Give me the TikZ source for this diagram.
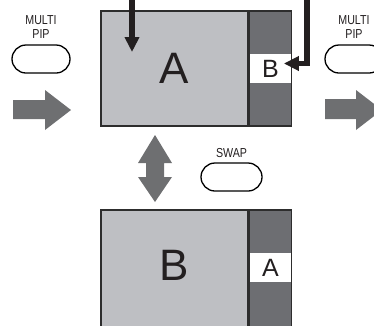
\documentclass[tikz,border=0pt]{standalone}
\usepackage{fontspec}
\setmainfont{Liberation Sans}
\newfontfamily\btnfont[FakeStretch=0.82]{Liberation Sans}
\usetikzlibrary{arrows.meta,positioning}
\definecolor{scrgray}{RGB}{190,191,195}
\definecolor{pipgray}{RGB}{109,110,114}
\definecolor{arrowgray}{RGB}{110,111,113}
\definecolor{frameblk}{RGB}{45,45,45}
\definecolor{inkblk}{RGB}{35,31,32}
\begin{document}
\begin{tikzpicture}[x=1pt,y=-1pt,
  screen/.style={draw=frameblk,line width=1.4pt,fill=scrgray,minimum width=147pt,minimum height=115pt,inner sep=0pt,text=inkblk,font=\fontsize{44}{44}\selectfont},
  pipstrip/.style={draw=frameblk,line width=1.4pt,fill=pipgray,minimum width=42pt,minimum height=115pt,inner sep=0pt},
  pipbox/.style={fill=white,minimum width=40.6pt,minimum height=29pt,inner sep=0pt,text=inkblk,font=\fontsize{25}{25}\selectfont},
  button/.style={draw=black,line width=1.3pt,rounded corners=14pt,minimum height=28pt,inner sep=0pt},
  btnlabel/.style={font=\btnfont\fontsize{13}{13.5}\selectfont,align=center,inner sep=0pt,text=inkblk},
  blockarrow/.style={fill=arrowgray},
  feed/.style={draw=inkblk,line width=5.6pt,-{Triangle[length=15pt,width=14pt]}}]
  \useasboundingbox (0,0) rectangle (374,325);
  \clip (0,0) rectangle (374,325);
  % upper screen
  \node[screen] (topmain) at (174.5,68.5) {A};
  \node[pipstrip,right=0pt of topmain] (topstrip) {};
  \node[pipbox] (toppip) at (topstrip.center) {B};
  % lower screen
  \node[screen,minimum height=121pt] (botmain) at (174.5,270.5) {\raisebox{10pt}{B}};
  \node[pipstrip,minimum height=121pt,right=0pt of botmain] (botstrip) {};
  \node[pipbox] (botpip) at ([yshift=3pt]botstrip.center) {A};
  % buttons
  \node[button,minimum width=58pt] (pipL) at (41,59) {};
  \node[btnlabel,above=6pt of pipL] (pipLtext) {MULTI\\PIP};
  \node[button,minimum width=58pt] (pipR) at (354,59) {};
  \node[btnlabel,above=6pt of pipR] (pipRtext) {MULTI\\PIP};
  \node[button,minimum width=61pt] (swapbtn) at (231.5,177) {};
  \node[btnlabel,above=5pt of swapbtn] (swaptext) {SWAP};
  % gray arrows
  \fill[blockarrow] (13,100) -- (45,100) -- (45,90) -- (71,110) -- (45,130) -- (45,119) -- (13,119) -- cycle;
  \fill[blockarrow] (325,99) -- (356,99) -- (356,90) -- (382,110) -- (356,130) -- (356,119) -- (325,119) -- cycle;
  \fill[blockarrow] (155,135) -- (172,163) -- (164,163) -- (164,177) -- (172,177) -- (155,202)
    -- (138,177) -- (146,177) -- (146,163) -- (138,163) -- cycle;
  % source feeds
  \coordinate (feedA) at (132,-2);
  \coordinate (dropA) at (132,52);
  \coordinate (feedB) at (307,-2);
  \draw[feed] (feedA) -- (dropA);
  \draw[feed] (feedB) |- ([xshift=-7pt,yshift=5pt]toppip.east);
\end{tikzpicture}
\end{document}
